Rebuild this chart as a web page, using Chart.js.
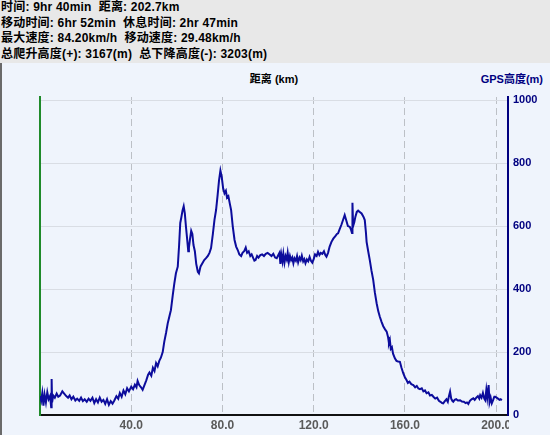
<!DOCTYPE html>
<html>
<head>
<meta charset="utf-8">
<script src="https://cdn.jsdelivr.net/npm/chart.js@4"></script>
<style>
  html, body { margin: 0; padding: 0; }
  body { width: 550px; height: 435px; background: #eff4fc; position: relative; overflow: hidden;
         font-family: "Liberation Sans", "Noto Sans CJK SC", sans-serif; }
  #info { position: absolute; left: 0; top: 0; width: 550px; height: 63px; background: #e8e8e8;
          font: bold 12px "Liberation Sans", "Noto Sans CJK SC", sans-serif; line-height: 15.7px;
          color: #000; white-space: pre; padding-left: 1px; box-sizing: border-box; letter-spacing: 0.2px; }
  #edge { position: absolute; left: 0; top: 63px; width: 2px; height: 372px; background: #6a6a6a; }
  .title { position: absolute; top: 70px; font: bold 11px "Liberation Sans", "Noto Sans CJK SC", sans-serif; white-space: pre; }
  #xTitle { left: 274px; transform: translateX(-50%); color: #000; }
  #yTitle { right: 7px; color: #000080; }
  canvas { position: absolute; left: 0; top: 0; }
</style>
</head>
<body>
<div id="info">时间: 9hr 40min  距离: 202.7km
移动时间: 6hr 52min  休息时间: 2hr 47min
最大速度: 84.20km/h  移动速度: 29.48km/h
总爬升高度(+): 3167(m)  总下降高度(-): 3203(m)</div>
<div id="edge"></div>
<div class="title" id="xTitle">距离 (km)</div>
<div class="title" id="yTitle">GPS高度(m)</div>
<canvas id="chart" width="550" height="435"></canvas>
<script>
// distance along the track (km)
const distKm = [
  0, 0.5, 1.0, 1.5, 2.0, 2.6, 3.2, 3.8, 4.4, 4.9, 5.1, 5.3, 5.8, 6.5, 7.3, 8.0, 8.8, 9.8,
  10.6, 11.5, 12.3, 13.0, 13.8, 14.6, 15.5, 16.3, 17.2, 18.0, 18.8, 19.6, 20.5, 21.3, 22.1,
  23.0, 23.8, 24.6, 25.4, 26.2, 27.0, 27.8, 28.6, 29.4, 30.2, 31.0, 31.8, 32.6, 33.5, 34.3,
  35.0, 35.8, 36.6, 37.4, 38.2, 39.0, 40.0, 40.8, 41.6, 42.3, 42.8, 43.5, 44.3, 45.0, 45.8,
  46.6, 47.4, 48.0, 48.8, 49.5, 50.2, 50.9, 51.6, 52.3, 53.0, 53.8, 54.5, 55.3, 56.0, 56.8,
  57.4, 58.2, 58.9, 59.6, 60.4, 61.0, 61.5, 61.9, 62.5, 63.0, 63.5, 64.0, 64.5, 65.0, 65.3,
  65.8, 66.3, 66.8, 67.3, 67.9, 68.5, 69.2, 69.7, 70.4, 71.2, 72.0, 72.8, 73.6, 74.3, 75.0,
  75.8, 76.5, 77.2, 77.9, 78.5, 79.1, 79.7, 80.3, 80.9, 81.5, 82.0, 82.6, 83.2, 83.8, 84.5,
  85.3, 86.0, 86.7, 87.4, 88.2, 88.8, 89.5, 90.2, 90.8, 91.5, 92.2, 92.8, 93.5, 94.0, 94.5,
  95.2, 95.8, 96.6, 97.4, 98.2, 99.0, 99.8, 100.7, 101.5, 102.3, 103.1, 103.8, 104.5, 105.0,
  105.4, 105.8, 106.3, 106.7, 107.2, 107.7, 108.2, 108.6, 109.1, 109.6, 110.1, 110.6, 111.1,
  111.6, 112.2, 112.7, 113.2, 113.8, 114.3, 114.8, 115.4, 115.9, 116.4, 117.0, 117.6, 118.2,
  118.8, 119.4, 120.0, 120.6, 121.3, 121.9, 122.5, 123.1, 123.8, 124.5, 125.1, 125.6, 126.3,
  127.0, 127.8, 128.6, 129.5, 130.2, 130.7, 131.4, 132.2, 132.9, 133.6, 134.3, 135.0, 135.8,
  136.4, 136.8, 137.0, 137.3, 137.8, 138.3, 138.9, 139.5, 140.2, 141.0, 141.8, 142.4, 142.9,
  143.2, 143.9, 144.6, 145.3, 146.1, 146.8, 147.6, 148.3, 149.0, 149.8, 150.5, 151.3, 152.0,
  152.6, 153.0, 153.4, 153.8, 154.3, 154.8, 155.6, 156.3, 157.0, 157.8, 158.5, 159.3, 160.0,
  160.7, 161.3, 162.0, 162.8, 163.7, 164.5, 165.2, 165.9, 166.6, 167.4, 168.1, 168.8, 169.5,
  170.3, 171.0, 171.8, 172.5, 173.3, 174.1, 174.9, 175.6, 176.3, 176.8, 177.5, 178.2, 178.8,
  179.3, 179.8, 180.3, 180.8, 181.2, 181.8, 182.5, 183.2, 184.2, 185.0, 185.8, 186.6, 187.2,
  187.8, 188.5, 189.2, 190.0, 190.6, 191.3, 192.0, 192.6, 193.0, 193.6, 194.2, 194.8, 195.2,
  195.7, 196.1, 196.7, 197.1, 197.6, 198.1, 198.7, 199.2, 199.6, 200.2, 200.8, 201.5, 202.0,
  202.5
];

// GPS elevation (m)
const elevM = [
  60, 45, 70, 30, 65, 40, 72, 50, 60, 25, 114, 40, 62, 55, 68, 58, 62, 75,
  68, 60, 55, 62, 50, 58, 46, 52, 45, 55, 44, 50, 42, 52, 45,
  55, 38, 50, 40, 55, 42, 48, 35, 50, 32, 44, 36, 46, 60, 52,
  70, 58, 78, 66, 85, 75, 90, 82, 96, 88, 108, 95, 88, 80, 95,
  110, 128, 135, 125, 150, 140, 165, 155, 172, 182, 200, 233, 262, 291, 315,
  333, 380, 418, 450, 471, 540, 610, 625, 650, 663, 640, 598, 560, 520, 532,
  560, 585, 575, 540, 520, 480, 455, 450, 472, 482, 492, 498, 505, 515, 530,
  575, 620, 651, 700, 745, 776, 755, 720, 704, 712, 690, 695, 672, 651, 600,
  556, 535, 524, 510, 505, 515, 520, 532, 515, 520, 505, 510, 498, 490, 492,
  505, 500, 508, 510, 505, 512, 515, 510, 505, 512, 500, 498, 508, 515,
  480, 510, 488, 512, 484, 505, 494, 515, 486, 505, 492, 500, 482,
  498, 490, 505, 485, 500, 492, 506, 488, 495, 482, 494, 488, 502,
  490, 484, 495, 510, 505, 518, 508, 515, 512, 520, 508, 503, 515,
  535, 550, 560, 568, 575, 577, 590, 605, 620, 635, 618, 600, 598,
  588, 578, 674, 600, 612, 630, 645, 649, 645, 640, 630, 619, 580,
  550, 520, 492, 460, 429, 390, 355, 330, 312, 295, 282, 272, 265,
  248, 228, 238, 210, 215, 195, 180, 172, 170, 169, 150, 132, 120,
  111, 102, 106, 98, 95, 88, 92, 84, 82, 85, 75, 78, 69,
  72, 62, 64, 58, 52, 55, 45, 42, 38, 37, 44, 50, 42,
  60, 74, 52, 45, 42, 48, 50, 46, 47, 43, 42, 38, 40,
  35, 45, 50, 53, 48, 55, 60, 52, 63, 55, 70, 52, 47,
  80, 55, 95, 40, 55, 37, 48, 58, 58, 55, 52, 48, 50,
  47
];

const xTicks = [40, 80, 120, 160, 200];
const yTicks = [0, 200, 400, 600, 800, 1000];

const bg = '#eff4fc';
const navy = '#000080';

const coverLastLabel = {
  id: 'coverLastLabel',
  afterDraw(chart) {
    // the 200.0 label is cut off by the right axis in the original
    const ctx = chart.ctx;
    ctx.save();
    ctx.fillStyle = bg;
    ctx.fillRect(chart.chartArea.right + 1, chart.chartArea.bottom + 3, 50, 20);
    ctx.restore();
  }
};

Chart.defaults.font.family = '"Liberation Sans", "DejaVu Sans", sans-serif';

new Chart(document.getElementById('chart'), {
  type: 'line',
  data: {
    datasets: [{
      label: 'GPS高度',
      data: distKm.map((d, i) => ({ x: d, y: elevM[i] })),
      borderColor: '#0c0c9c',
      borderWidth: 2,
      pointRadius: 0,
      tension: 0,
      fill: false
    }]
  },
  options: {
    responsive: false,
    animation: false,
    layout: { padding: { top: 97, left: 0, right: 0, bottom: 0 } },
    plugins: { legend: { display: false }, tooltip: { enabled: false } },
    scales: {
      x: {
        type: 'linear',
        min: 0,
        max: 205.2,
        afterFit: s => { s.height = 20; },
        afterBuildTicks: s => { s.ticks = [0].concat(xTicks).map(v => ({ value: v })); },
        ticks: {
          includeBounds: false,
          padding: 3,
          color: '#5a5a5a',
          font: { size: 12, weight: 'bold' },
          maxRotation: 0,
          callback: v => (v === 0 ? '' : v.toFixed(1))
        },
        grid: { color: '#bcc0c6', drawTicks: false },
        border: { color: '#111111', width: 2, dash: [7, 4] }
      },
      y: {
        position: 'right',
        min: 0,
        max: 1010,
        afterFit: s => { s.width = 42; },
        afterBuildTicks: s => { s.ticks = yTicks.map(v => ({ value: v })); },
        ticks: {
          includeBounds: false,
          padding: 5,
          color: navy,
          font: { size: 11, weight: 'bold' },
          callback: v => String(v)
        },
        grid: { color: '#d9dde4', drawTicks: false },
        border: { color: navy, width: 2 }
      },
      yLeft: {
        position: 'left',
        min: 0,
        max: 1010,
        afterFit: s => { s.width = 40; },
        ticks: { display: false },
        grid: { drawOnChartArea: false, drawTicks: false },
        border: { color: '#1f8a2a', width: 2 }
      }
    }
  },
  plugins: [coverLastLabel]
});
</script>
</body>
</html>
